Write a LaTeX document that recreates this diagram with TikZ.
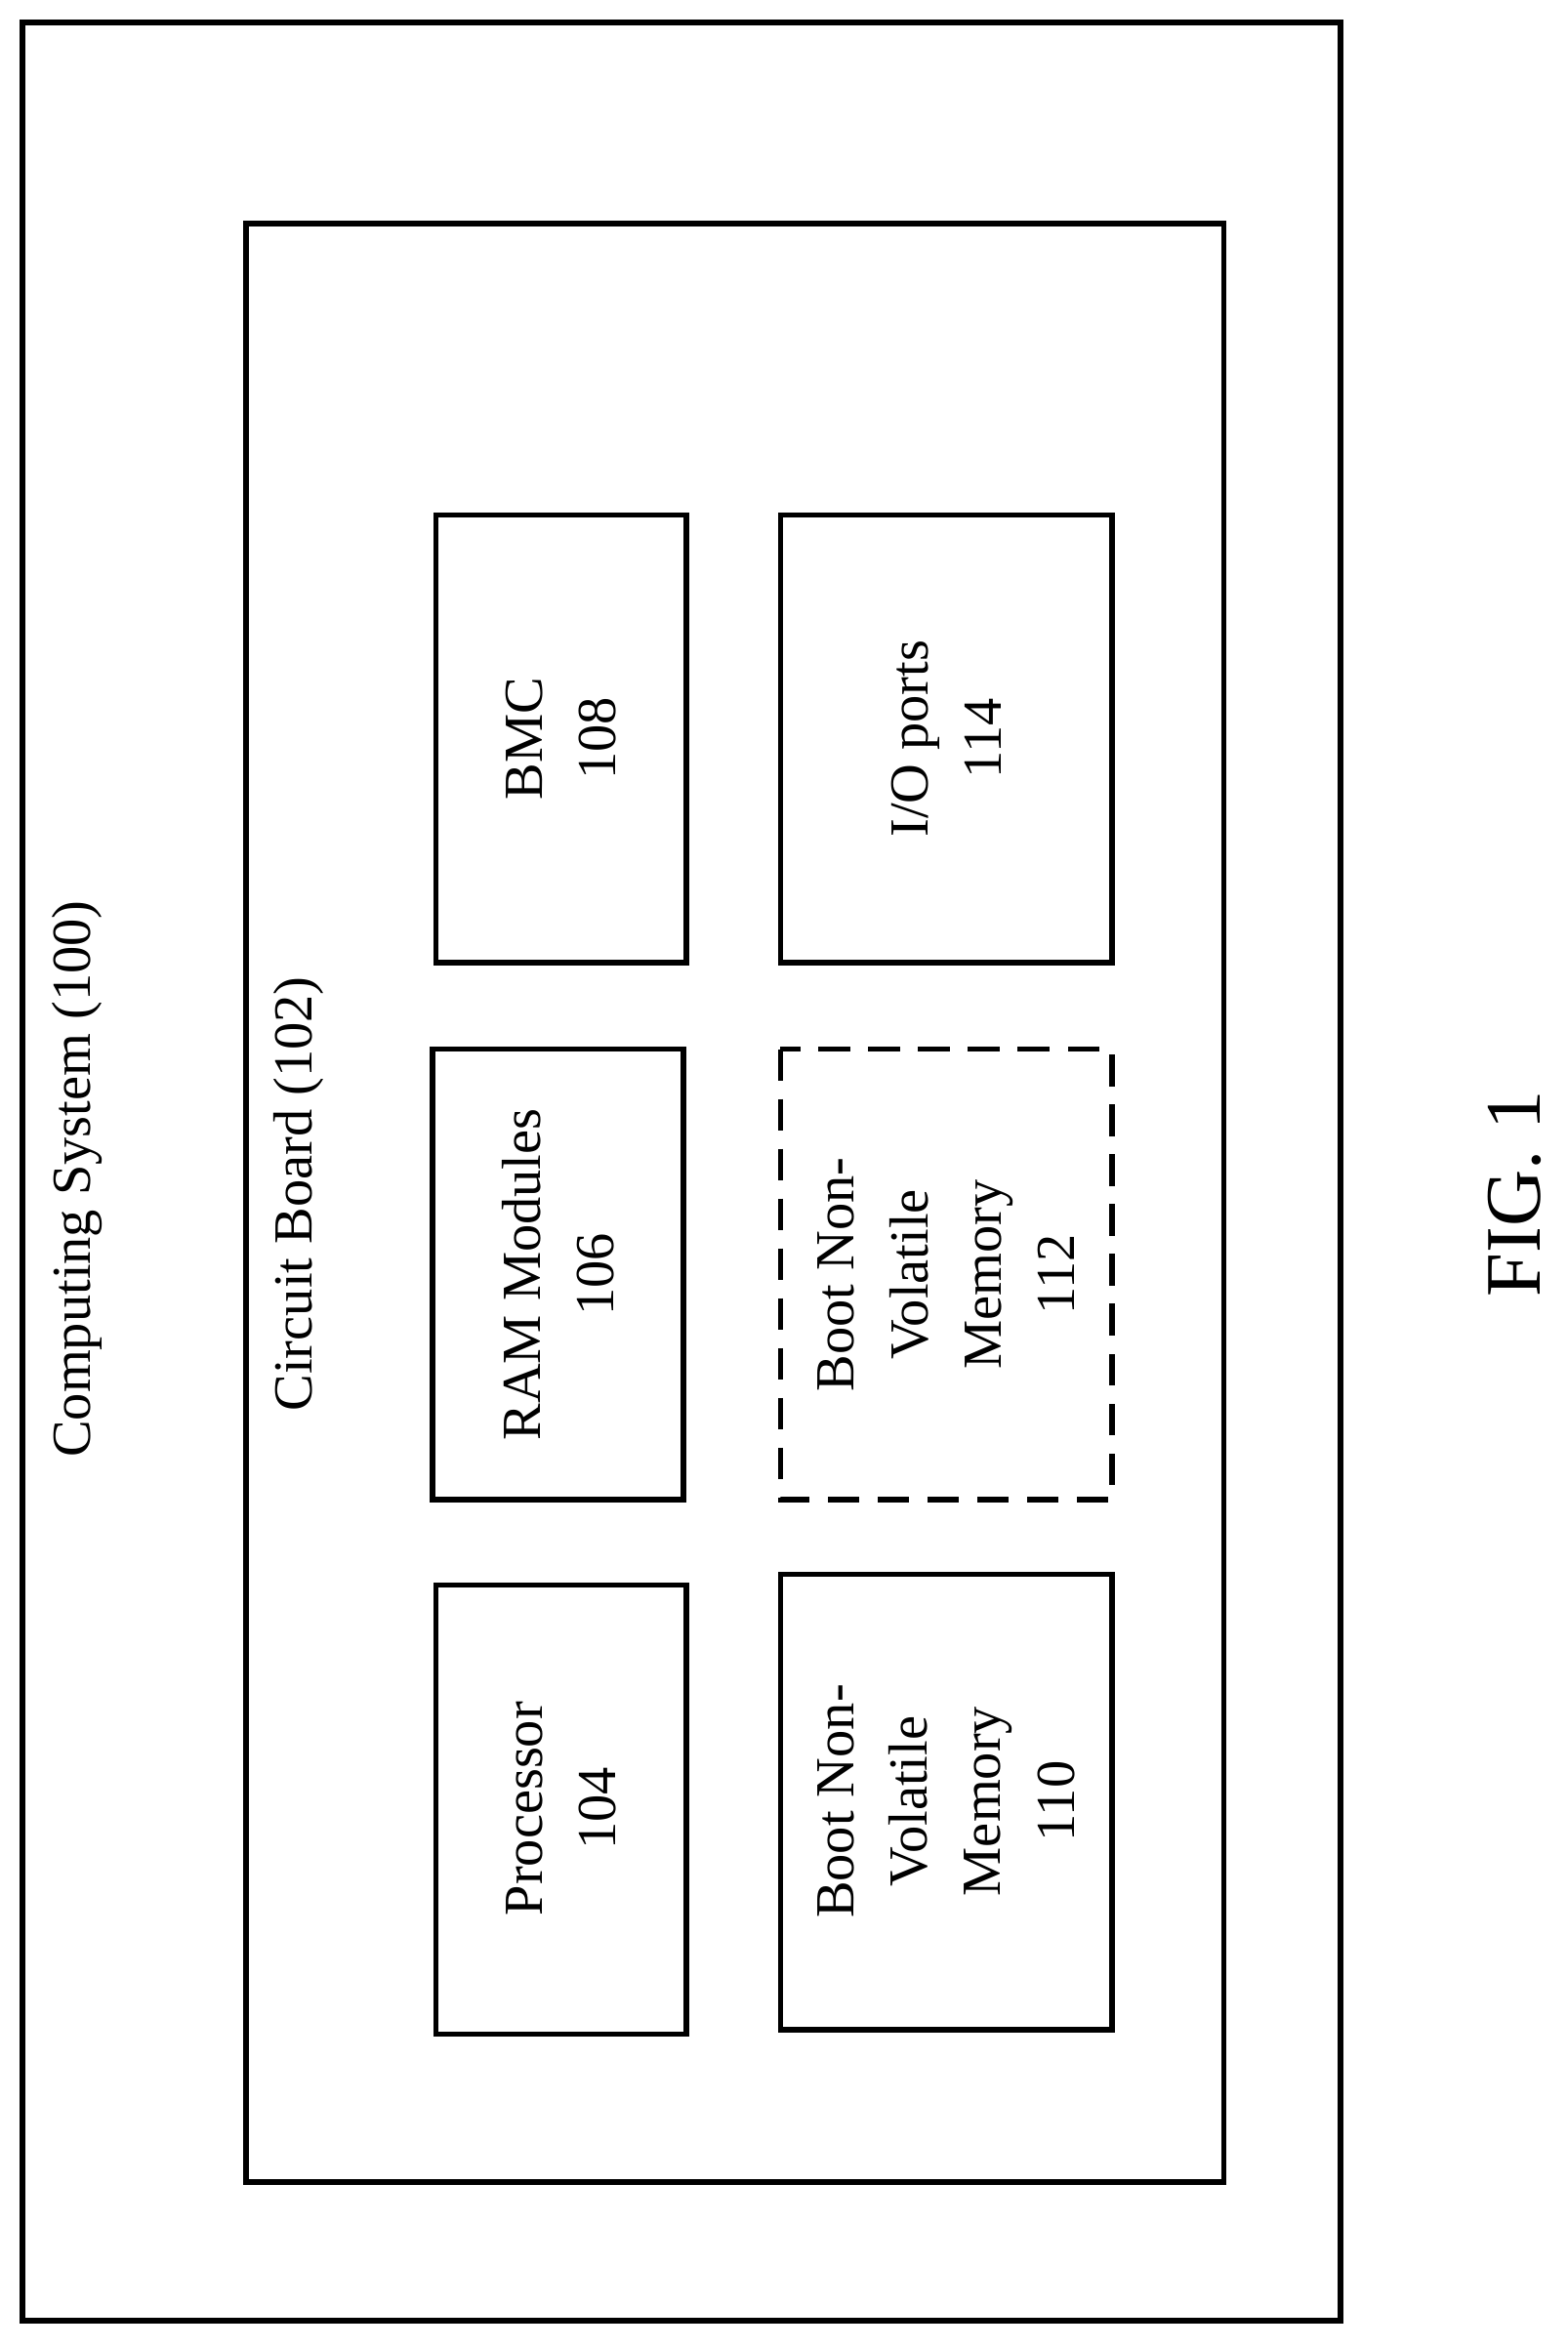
\documentclass[tikz,border=0pt]{standalone}
\usepackage{fontspec}
\setmainfont{Liberation Serif}
\begin{document}
\begin{tikzpicture}[x=0.02cm,y=-0.02cm,
    box/.style={draw, line width=2.1pt},
    lbl/.style={rotate=90, align=center, font=\fontsize{21}{28}\selectfont}]
    \useasboundingbox (0,0) rectangle (1050,1574);
    % outer frames
    \draw[box] (15,15) rectangle (898,1555);
    \draw[box] (165,150) rectangle (820,1462);
    \node[lbl] (sys) at (52,790) {Computing System (100)};
    \node[lbl] (board) at (200,800) {Circuit Board (102)};

    % components
    \draw[box] (292,345) rectangle (460,645);
    \node[lbl] (bmc) at (376,495) {BMC\\108};
    \draw[box] (290,703) rectangle (458,1005);
    \node[lbl] (ram) at (374,854) {RAM Modules\\106};
    \draw[box] (292,1062) rectangle (460,1363);
    \node[lbl] (proc) at (376,1212) {Processor\\104};
    \draw[box] (523,345) rectangle (745,645);
    \node[lbl] (io) at (634,495) {I/O ports\\114};
    \draw[box, dashed, dash pattern=on 12pt off 7pt] (523,703) rectangle (745,1005);
    \node[lbl] (boot2) at (634,854) {Boot Non-\\Volatile\\Memory\\112};
    \draw[box] (523,1055) rectangle (745,1360);
    \node[lbl] (boot1) at (634,1207) {Boot Non-\\Volatile\\Memory\\110};

    \node[rotate=90, font=\fontsize{30}{36}\selectfont] (fig) at (1015,800) {FIG. 1};
\end{tikzpicture}
\end{document}
